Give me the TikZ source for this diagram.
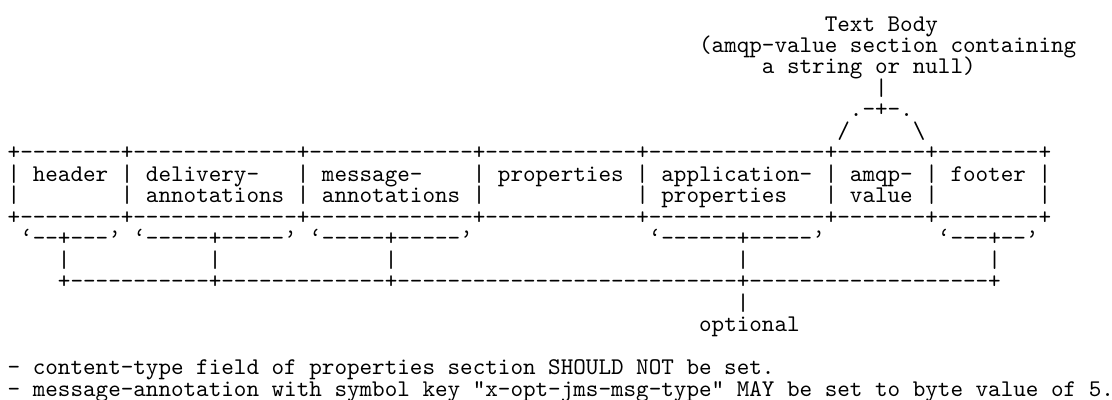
\documentclass[tikz,border=0pt]{standalone}
\usepackage{tikz}
\ExplSyntaxOn
\NewDocumentCommand\dsh{m}{\prg_replicate:nn{#1}{-\kern0pt}}
\ExplSyntaxOff
\begin{document}
\begin{tikzpicture}[x=5.25pt, y=-8.967pt,
  asc/.style={anchor=base west, inner sep=0pt, outer sep=0pt, text=black,
    font=\ttfamily\fontsize{10pt}{10pt}\selectfont}]
\useasboundingbox (-3.22pt,12.95pt) rectangle (461.18pt,-153.7pt);
% top label
\node[asc] (tb1) at (65,0) {Text Body};
\node[asc] (tb2) at (55,1) {(amqp-value section containing};
\node[asc] (tb3) at (60,2) {a string or null)};
\node[asc] (tb4) at (69,3) {|};
\node[asc] (tb5) at (67,4) {.-+-.};
\node[asc] (tb6) at (66,5) {/};
\node[asc] (tb7) at (72,5) {\textbackslash};
% boxes
\node[asc] (top) at (0,6) {+\dsh{8}+\dsh{13}+\dsh{13}+\dsh{12}+\dsh{14}+\dsh{7}+\dsh{8}+};
\node[asc] (r1a) at (0,7) {| header | delivery-};
\node[asc] (r1b) at (23,7) {| message-};
\node[asc] (r1c) at (37,7) {| properties | application- | amqp- | footer |};
\node[asc] (r2a) at (0,8) {|};
\node[asc] (r2b) at (9,8) {| annotations | annotations |};
\node[asc] (r2c) at (50,8) {| properties};
\node[asc] (r2d) at (65,8) {| value |};
\node[asc] (r2e) at (82,8) {|};
\node[asc] (bot) at (0,9) {+\dsh{8}+\dsh{13}+\dsh{13}+\dsh{12}+\dsh{14}+\dsh{7}+\dsh{8}+};
% braces
\node[asc] (q1) at (1,10) {‘\dsh{2}+\dsh{3}’ ‘\dsh{5}+\dsh{5}’ ‘\dsh{5}+\dsh{5}’};
\node[asc] (q2) at (51,10) {‘\dsh{6}+\dsh{5}’};
\node[asc] (q3) at (74,10) {‘\dsh{3}+\dsh{2}’};
\node[asc] (v1) at (4,11) {|};
\node[asc] (v2) at (16,11) {|};
\node[asc] (v3) at (30,11) {|};
\node[asc] (v4) at (58,11) {|};
\node[asc] (v5) at (78,11) {|};
\node[asc] (hl) at (4,12) {+\dsh{11}+\dsh{13}+\dsh{27}+\dsh{19}+};
\node[asc] (v6) at (58,13) {|};
\node[asc] (opt) at (55,14) {optional};
% notes
\node[asc] (n1) at (0,16) {- content-type field of properties section SHOULD NOT be set.};
\node[asc] (n2) at (0,17) {- message-annotation with symbol key "x-opt-jms-msg-type" MAY be set to byte value of 5.};
\end{tikzpicture}
\end{document}
